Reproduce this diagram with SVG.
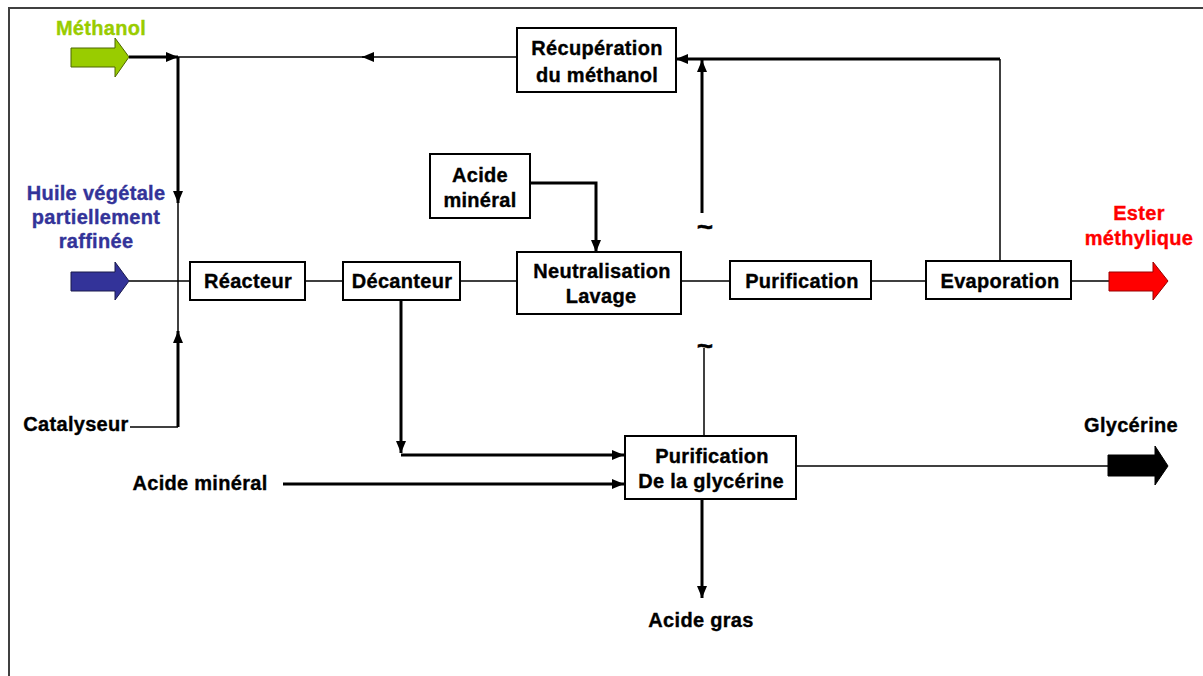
<svg xmlns="http://www.w3.org/2000/svg" width="1203" height="676" viewBox="0 0 1203 676">
<style>
text{font-family:"Liberation Sans",Arial,sans-serif;font-weight:bold;font-size:20px;text-anchor:middle;letter-spacing:0.3px;stroke:currentColor;stroke-width:0.35}
.box{fill:#fff;stroke:#000;stroke-width:2}
.thin{fill:none;stroke:#000;stroke-width:1.5}
.thick{fill:none;stroke:#000;stroke-width:3}
.arr{marker-end:url(#ah)}
.tilde{font-size:28px}
</style>
<defs>
<marker id="ah" viewBox="0 0 12 10" refX="12" refY="5" markerWidth="12" markerHeight="10" markerUnits="userSpaceOnUse" orient="auto">
<path d="M0,0 L12,5 L0,10 z" fill="#000"/>
</marker>
</defs>
<rect width="1203" height="676" fill="#fff"/>
<path d="M9,676 V8 H1203" fill="none" stroke="#404040" stroke-width="2"/>

<g id="connectors">
<path class="thick arr" d="M129,57 H178"/>
<path class="thin arr" d="M517,57 H362"/>
<path class="thin" d="M366,57 H178"/>
<path class="thick arr" d="M178,57 V203"/>
<path class="thin" d="M178,203 V332"/>
<path class="thin" d="M130,427 H178"/>
<path class="thick arr" d="M178,427 V331"/>
<path class="thin" d="M129,281 H190 M305,281 H343 M460,281 H517 M681,281 H730 M871,281 H926 M1071,281 H1110"/>
<path class="thick arr" d="M530,183 H596 V252"/>
<path class="thin" d="M1000,261 V59"/>
<path class="thick arr" d="M1000,59 H676"/>
<path class="thick arr" d="M702,213 V60"/>
<path class="thin" d="M704,348 V436"/>
<path class="thick arr" d="M401,300 V453"/>
<path class="thick arr" d="M401,455 H624"/>
<path class="thick arr" d="M283,484 H624"/>
<path class="thick arr" d="M702,499 V598"/>
<path class="thin" d="M796,466 H1110"/>
</g>

<g id="methanol-in">
<polygon points="71,48 115,48 115,38 129,57 115,77 115,67 71,67" fill="#99cc00" stroke="#4d6600" stroke-width="1"/>
<text x="101" y="35" fill="#99cc00" color="#99cc00">Méthanol</text>
</g>
<g id="huile-in">
<polygon points="71,272 115,272 115,262 129,281 115,300 115,291 71,291" fill="#333399" stroke="#1a1a4d" stroke-width="1"/>
<text fill="#333399" color="#333399"><tspan x="96" y="200">Huile végétale</tspan><tspan x="96" y="224">partiellement</tspan><tspan x="96" y="248">raffinée</tspan></text>
</g>
<g id="catalyseur"><text x="76" y="431">Catalyseur</text></g>
<g id="acide-mineral-in"><text x="200" y="490">Acide minéral</text></g>

<g id="recuperation">
<rect class="box" x="517" y="28" width="159" height="64"/>
<text><tspan x="597" y="55">Récupération</tspan><tspan x="597" y="82">du méthanol</tspan></text>
</g>
<g id="reacteur">
<rect class="box" x="190" y="262" width="115" height="38"/>
<text x="248" y="288">Réacteur</text>
</g>
<g id="decanteur">
<rect class="box" x="343" y="262" width="117" height="38"/>
<text x="402" y="288">Décanteur</text>
</g>
<g id="acide-mineral-box">
<rect class="box" x="430" y="154" width="100" height="64"/>
<text><tspan x="480" y="182">Acide</tspan><tspan x="480" y="207">minéral</tspan></text>
</g>
<g id="neutralisation">
<rect class="box" x="517" y="252" width="164" height="62"/>
<text><tspan x="602" y="278">Neutralisation</tspan><tspan x="601" y="303">Lavage</tspan></text>
</g>
<g id="purification">
<rect class="box" x="730" y="261" width="141" height="38"/>
<text x="802" y="288">Purification</text>
</g>
<g id="evaporation">
<rect class="box" x="926" y="261" width="145" height="38"/>
<text x="1000" y="288">Evaporation</text>
</g>
<g id="ester-out">
<polygon points="1109,272 1153,272 1153,262 1168,281 1153,300 1153,291 1109,291" fill="#ff0000" stroke="#990000" stroke-width="1"/>
<text fill="#ff0000" color="#ff0000"><tspan x="1139" y="220">Ester</tspan><tspan x="1139" y="245">méthylique</tspan></text>
</g>
<g id="tildes">
<text class="tilde" x="705" y="236">~</text>
<text class="tilde" x="705" y="355">~</text>
</g>
<g id="purif-glycerine">
<rect class="box" x="625" y="436" width="171" height="63"/>
<text><tspan x="712" y="463">Purification</tspan><tspan x="711" y="488">De la glycérine</tspan></text>
</g>
<g id="glycerine-out">
<polygon points="1108,455 1155,455 1155,446 1168,466 1155,485 1155,476 1108,476" fill="#000" stroke="#000" stroke-width="1"/>
<text x="1131" y="432">Glycérine</text>
</g>
<g id="acide-gras"><text x="701" y="627">Acide gras</text></g>
</svg>
